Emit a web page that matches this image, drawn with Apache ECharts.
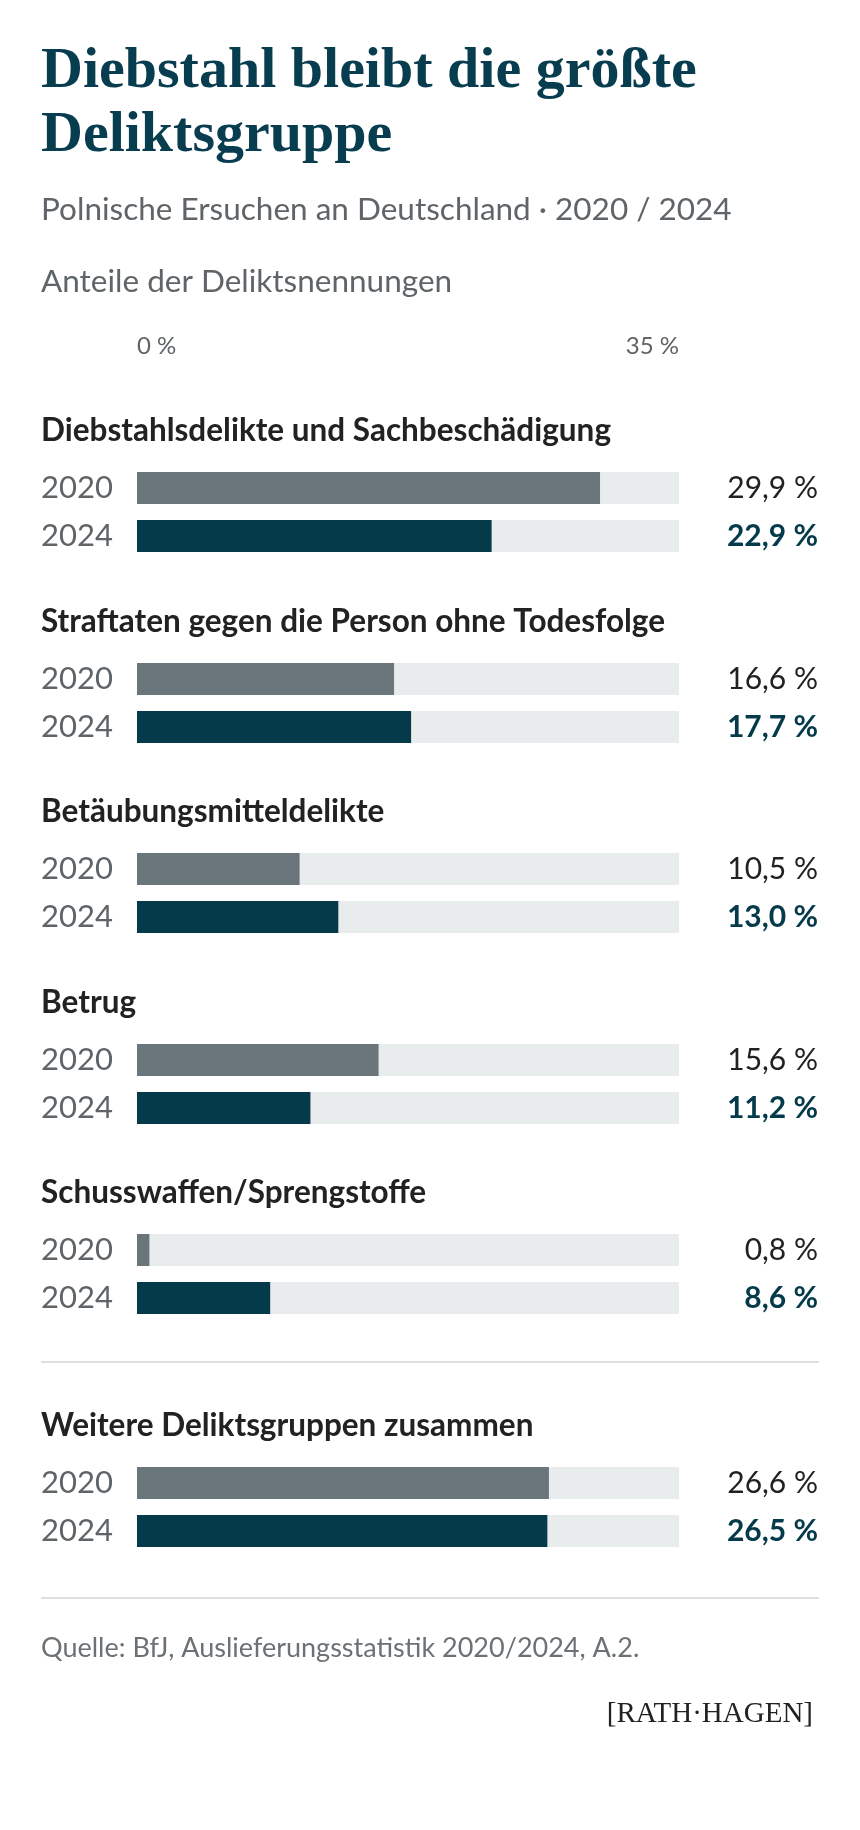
<!DOCTYPE html>
<html><head><meta charset="utf-8">
<script src="https://cdn.jsdelivr.net/npm/echarts@6/dist/echarts.min.js"></script>
<style>html,body{margin:0;padding:0;background:#fff}#c{width:860px;height:1830px}</style>
</head><body><div id="c"></div>
<script>
var groups = ['Diebstahlsdelikte und Sachbeschädigung', 'Straftaten gegen die Person ohne Todesfolge', 'Betäubungsmitteldelikte', 'Betrug', 'Schusswaffen/Sprengstoffe', 'Weitere Deliktsgruppen zusammen'];
var years = ['2020', '2024'];
var v2020 = [29.9, 16.6, 10.5, 15.6, 0.8, 26.6];
var v2024 = [22.9, 17.7, 13.0, 11.2, 8.6, 26.5];
var axisTicks = [0, 35];

var chart = echarts.init(document.getElementById('c'), null, {renderer: 'canvas'});
var fmt = function (v) { return v.toFixed(1).replace('.', ',') + ' %'; };
var tops = [464, 655, 845, 1036, 1226, 1459];
var grids = [], xAxes = [], yAxes = [], series = [], graphics = [];

groups.forEach(function (name, i) {
  grids.push({left: 137, width: 542, top: tops[i], height: 96, outerBoundsMode: 'none', containLabel: false});
  xAxes.push({gridIndex: i, type: 'value', min: axisTicks[0], max: axisTicks[1], show: false});
  yAxes.push({gridIndex: i, type: 'category', data: years, inverse: true,
    axisLine: {show: false}, axisTick: {show: false},
    axisLabel: {margin: 96, align: 'left', fontFamily: 'Lato', fontSize: 31, color: '#5f6468'}});
  yAxes.push({gridIndex: i, type: 'category', position: 'right', inverse: true,
    data: [{value: fmt(v2020[i]), textStyle: {color: '#222', fontWeight: 'normal', align: 'right'}},
           {value: fmt(v2024[i]), textStyle: {color: '#053a4b', fontWeight: 'bold', align: 'right'}}],
    axisLine: {show: false}, axisTick: {show: false},
    axisLabel: {margin: 139, align: 'right', fontFamily: 'Lato', fontSize: 30}});
  series.push({type: 'bar', xAxisIndex: i, yAxisIndex: 2 * i, barWidth: 32,
    showBackground: true, backgroundStyle: {color: '#e9ecec'},
    data: [{value: v2020[i], itemStyle: {color: '#6b757c'}}, {value: v2024[i], itemStyle: {color: '#053a4b'}}]});
  graphics.push({type: 'text', left: 41, top: tops[i] - 49,
    style: {text: name, font: 'bold 31.5px Lato', fill: '#222'}});
});

graphics.push(
  {type: 'text', left: 41, top: 40, style: {text: 'Diebstahl bleibt die größte\nDeliktsgruppe', font: 'bold 58px "Liberation Serif"', fill: '#083d4f', lineHeight: 64}},
  {type: 'text', left: 41, top: 194, style: {text: 'Polnische Ersuchen an Deutschland · 2020 / 2024', font: '31.5px Lato', fill: '#5f6468'}},
  {type: 'text', left: 41, top: 266, style: {text: 'Anteile der Deliktsnennungen', font: '31.5px Lato', fill: '#5f6468'}},
  {type: 'text', left: 137, top: 334, style: {text: axisTicks[0] + ' %', font: '24px Lato', fill: '#5f6468'}},
  {type: 'text', right: 181, top: 334, style: {text: axisTicks[1] + ' %', font: '24px Lato', fill: '#5f6468'}},
  {type: 'rect', shape: {x: 41, y: 1361, width: 778, height: 2}, style: {fill: '#dcdfe0'}},
  {type: 'rect', shape: {x: 41, y: 1597, width: 778, height: 2}, style: {fill: '#dcdfe0'}},
  {type: 'text', left: 41, top: 1635, style: {text: 'Quelle: BfJ, Auslieferungsstatistik 2020/2024, A.2.', font: '27px Lato', fill: '#6b7175'}},
  {type: 'text', right: 47, top: 1700, style: {text: '[RATH·HAGEN]', font: '29px "Liberation Serif"', fill: '#222'}}
);

chart.setOption({
  animation: false,
  grid: grids, xAxis: xAxes, yAxis: yAxes, series: series, graphic: graphics
});
</script></body></html>
